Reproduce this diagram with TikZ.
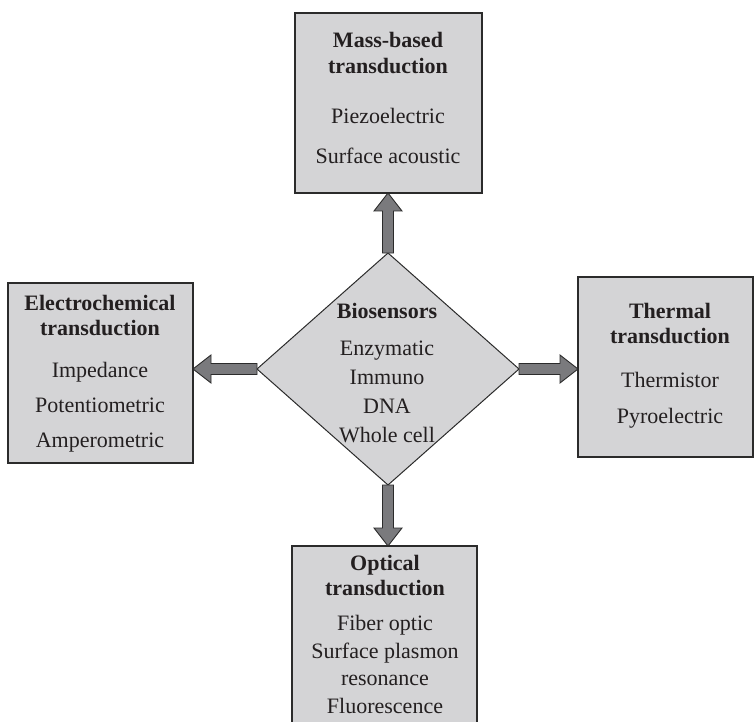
\documentclass[tikz,border=0pt]{standalone}
\usepackage{fontspec}
\setmainfont{Liberation Serif}
\usetikzlibrary{shapes.geometric,calc}
\definecolor{boxfill}{HTML}{D4D4D6}
\definecolor{arrowfill}{HTML}{7A7A7D}
\definecolor{edge}{HTML}{2B2B2B}
\definecolor{ink}{HTML}{231F20}
\begin{document}
\begin{tikzpicture}[x=1pt,y=-1pt,
  panel/.style={draw=edge, fill=boxfill, line width=1.2pt, rectangle, inner sep=0pt, outer sep=0pt},
  hub/.style={draw=edge, fill=boxfill, line width=1pt, diamond, inner sep=0pt, outer sep=0pt,
              minimum width=262pt, minimum height=232pt},
  head/.style={anchor=base, inner sep=0pt, text=ink, font=\fontsize{22}{26}\selectfont\bfseries},
  item/.style={anchor=base, inner sep=0pt, text=ink, font=\fontsize{22}{26}\selectfont},
  fat/.style={draw=edge, fill=arrowfill, line width=0.9pt, line join=miter}
]
\useasboundingbox (0,0) rectangle (755,722);
\begin{scope}
\clip (0,0) rectangle (755,722);

% central diamond and the four transduction panels
\node[hub] (bio) at (388,369) {};
\node[panel, minimum width=187pt, minimum height=180pt] (mass) at (388.5,103) {};
\node[panel, minimum width=185pt, minimum height=180pt] (elec) at (100.5,373) {};
\node[panel, minimum width=175pt, minimum height=180pt] (therm) at (665.5,367) {};
\node[panel, minimum width=185pt, minimum height=200pt] (opt) at (384.5,646) {};

% arrow tips on the panel edges, aligned with the diamond tips
\coordinate (upTip) at (bio.north |- mass.south);
\coordinate (leftTip) at (bio.west -| elec.east);
\coordinate (rightTip) at (bio.east -| therm.west);
\coordinate (downTip) at (bio.south |- opt.north);

% block arrows
\draw[fat] ($(bio.north)+(-5.5,0)$) -- ($(upTip)+(-5.5,18)$) -- ($(upTip)+(-14,18)$) -- (upTip)
  -- ($(upTip)+(14,18)$) -- ($(upTip)+(5.5,18)$) -- ($(bio.north)+(5.5,0)$) -- cycle;
\draw[fat] ($(bio.south)+(-5.5,0)$) -- ($(downTip)+(-5.5,-18)$) -- ($(downTip)+(-14,-18)$) -- (downTip)
  -- ($(downTip)+(14,-18)$) -- ($(downTip)+(5.5,-18)$) -- ($(bio.south)+(5.5,0)$) -- cycle;
\draw[fat] ($(bio.west)+(0,-5.5)$) -- ($(leftTip)+(18,-5.5)$) -- ($(leftTip)+(18,-14)$) -- (leftTip)
  -- ($(leftTip)+(18,14)$) -- ($(leftTip)+(18,5.5)$) -- ($(bio.west)+(0,5.5)$) -- cycle;
\draw[fat] ($(bio.east)+(0,-5.5)$) -- ($(rightTip)+(-18,-5.5)$) -- ($(rightTip)+(-18,-14)$) -- (rightTip)
  -- ($(rightTip)+(-18,14)$) -- ($(rightTip)+(-18,5.5)$) -- ($(bio.east)+(0,5.5)$) -- cycle;

% diamond text
\node[head] (bioT) at (387,318) {Biosensors};
\node[item] (bio1) at (387,355) {Enzymatic};
\node[item] (bio2) at (387,384) {Immuno};
\node[item] (bio3) at (387,413) {DNA};
\node[item] (bio4) at (387,442) {Whole cell};

% mass-based panel text
\node[head] (massT1) at (388,48) {Mass-based};
\node[head] (massT2) at (388,74) {transduction};
\node[item] (mass1) at (388,124) {Piezoelectric};
\node[item] (mass2) at (388,164) {Surface acoustic};

% electrochemical panel text
\node[head] (elecT1) at (100,310) {Electrochemical};
\node[head] (elecT2) at (100,335) {transduction};
\node[item] (elec1) at (100,377) {Impedance};
\node[item] (elec2) at (100,412) {Potentiometric};
\node[item] (elec3) at (100,447) {Amperometric};

% thermal panel text
\node[head] (thermT1) at (670,318) {Thermal};
\node[head] (thermT2) at (670,343) {transduction};
\node[item] (therm1) at (670,387) {Thermistor};
\node[item] (therm2) at (670,423) {Pyroelectric};

% optical panel text
\node[head] (optT1) at (385,570) {Optical};
\node[head] (optT2) at (385,595) {transduction};
\node[item] (opt1) at (385,630) {Fiber optic};
\node[item] (opt2) at (385,658) {Surface plasmon};
\node[item] (opt3) at (385,685) {resonance};
\node[item] (opt4) at (385,713) {Fluorescence};
\end{scope}
\end{tikzpicture}
\end{document}
